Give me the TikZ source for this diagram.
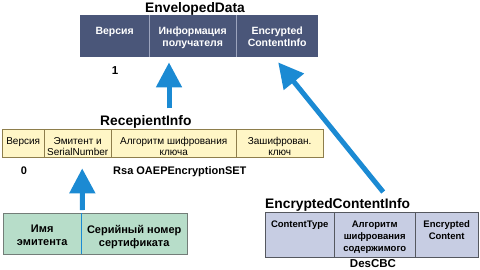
\documentclass[tikz,border=0pt]{standalone}
\usepackage{fontspec}
\setmainfont{Liberation Sans}
\usetikzlibrary{arrows.meta,calc}
\definecolor{edfill}{HTML}{4A5679}
\definecolor{eddiv}{HTML}{9CA4BE}
\definecolor{rifill}{HTML}{FFF6C6}
\definecolor{riline}{HTML}{8E7E4C}
\definecolor{gfill}{HTML}{B7DDC9}
\definecolor{gline}{HTML}{737D78}
\definecolor{efill}{HTML}{C7CDE3}
\definecolor{eline}{HTML}{55585F}
\definecolor{arrblue}{HTML}{1B8AD3}
\tikzset{
  cellbox/.style={anchor=north west, inner sep=0pt, draw=none},
  celltext/.style={anchor=north, inner sep=0pt, align=center},
  titletext/.style={anchor=base west, inner sep=0pt, font=\bfseries\fontsize{13.8}{15}\selectfont},
  edtext/.style={celltext, text=white, font=\bfseries\fontsize{10.5}{12}\selectfont},
  ritext/.style={celltext, font=\fontsize{10}{11}\selectfont},
  gtext/.style={celltext, font=\bfseries\fontsize{11}{13}\selectfont},
  etext/.style={celltext, font=\bfseries\fontsize{9.5}{11.8}\selectfont},
  valtext/.style={anchor=base, inner sep=0pt, font=\bfseries\fontsize{11.5}{13}\selectfont},
  bluearrow/.style={draw=arrblue, line width=5pt, -{Triangle[width=25pt,length=25pt]}, arrblue},
}
\begin{document}
\begin{tikzpicture}[x=1pt,y=-1pt]
\useasboundingbox (0,0) rectangle (480,269);
% ---------- EnvelopedData ----------
\node[titletext] (edtitle) at (145,12) {EnvelopedData};
\node[cellbox, fill=edfill, minimum width=69pt, minimum height=42pt] (ed1) at (80,15) {};
\node[cellbox, fill=edfill, minimum width=87pt, minimum height=42pt] (ed2) at (149,15) {};
\node[cellbox, fill=edfill, minimum width=82pt, minimum height=42pt] (ed3) at (236,15) {};
\draw[eddiv, line width=0.8pt] (ed1.north east) -- (ed1.south east);
\draw[eddiv, line width=0.8pt] (ed2.north east) -- (ed2.south east);
\node[edtext] (edt1) at ($(ed1.north)+(0,12)$) {Версия};
\node[edtext] (edt2) at ($(ed2.north)+(0,12)$) {Информация\\получателя};
\node[edtext] (edt3) at ($(ed3.north)+(0,12)$) {Encrypted\\ContentInfo};
\node[valtext] (edv1) at (115,74) {1};
% ---------- RecepientInfo ----------
\node[titletext] (rititle) at (100,125) {RecepientInfo};
\node[cellbox, fill=rifill, minimum width=42pt, minimum height=28pt] (ri1) at (2,129) {};
\node[cellbox, fill=rifill, minimum width=67pt, minimum height=28pt] (ri2) at (44,129) {};
\node[cellbox, fill=rifill, minimum width=125pt, minimum height=28pt] (ri3) at (111,129) {};
\node[cellbox, fill=rifill, minimum width=87pt, minimum height=28pt] (ri4) at (236,129) {};
\draw[riline, line width=0.9pt] (ri1.north west) rectangle (ri4.south east);
\draw[riline, line width=0.9pt] (ri1.north east) -- (ri1.south east);
\draw[riline, line width=0.9pt] (ri2.north east) -- (ri2.south east);
\draw[riline, line width=0.9pt] (ri3.north east) -- (ri3.south east);
\node[ritext] (rit1) at ($(ri1.north)+(0,8.4)$) {Версия};
\node[ritext] (rit2) at ($(ri2.north)+(0,8.4)$) {Эмитент и\\SerialNumber};
\node[ritext] (rit3) at ($(ri3.north)+(0,8.4)$) {Алгоритм шифрования\\ключа};
\node[ritext] (rit4) at ($(ri4.north)+(0,8.4)$) {Зашифрован.\\ключ};
\node[valtext, font=\bfseries\fontsize{11}{13}\selectfont] (riv1) at (24,174) {0};
\node[valtext, anchor=base west, font=\bfseries\fontsize{11}{13}\selectfont] (riv3) at (113,174) {Rsa OAEPEncryptionSET};
% ---------- Issuer / serial ----------
\node[cellbox, fill=gfill, minimum width=78pt, minimum height=41pt] (g1) at (3,213) {};
\node[cellbox, fill=gfill, minimum width=106pt, minimum height=41pt] (g2) at (81,213) {};
\draw[gline, line width=0.9pt] (g1.north west) rectangle (g2.south east);
\draw[arrblue, line width=0.9pt] (g1.north east) -- (g1.south east);
\node[gtext] (gt1) at ($(g1.north)+(0,12)$) {Имя\\эмитента};
\node[gtext] (gt2) at ($(g2.north)+(0,12)$) {Серийный номер\\сертификата};
% ---------- EncryptedContentInfo ----------
\node[titletext] (etitle) at (265,208) {EncryptedContentInfo};
\node[cellbox, fill=efill, minimum width=69pt, minimum height=45pt] (e1) at (265,212) {};
\node[cellbox, fill=efill, minimum width=81pt, minimum height=45pt] (e2) at (334,212) {};
\node[cellbox, fill=efill, minimum width=63pt, minimum height=45pt] (e3) at (415,212) {};
\draw[eline, line width=0.9pt] (e1.north west) rectangle (e3.south east);
\draw[eline, line width=0.9pt] (e1.north east) -- (e1.south east);
\draw[eline, line width=0.9pt] (e2.north east) -- (e2.south east);
\node[etext] (et1) at ($(e1.north)+(0,8.8)$) {ContentType};
\node[etext] (et2) at ($(e2.north)+(0,8.8)$) {Алгоритм\\шифрования\\содержимого};
\node[etext] (et3) at ($(e3.north)+(0,8.8)$) {Encrypted\\Content};
\node[valtext] (ev2) at (373,267) {DesCBC};
% ---------- arrows ----------
\draw[bluearrow] ($(ed2.south west)+(20,51)$) -- ($(ed2.south west)+(20,5)$);
\draw[bluearrow] ($(g1.north east)+(1,-3)$) -- ($(ri2.south)+(4.5,11)$);
\draw[bluearrow] ($(e2.north)+(8.5,-20)$) -- ($(ed3.south)+(1,5)$);
\end{tikzpicture}
\end{document}
